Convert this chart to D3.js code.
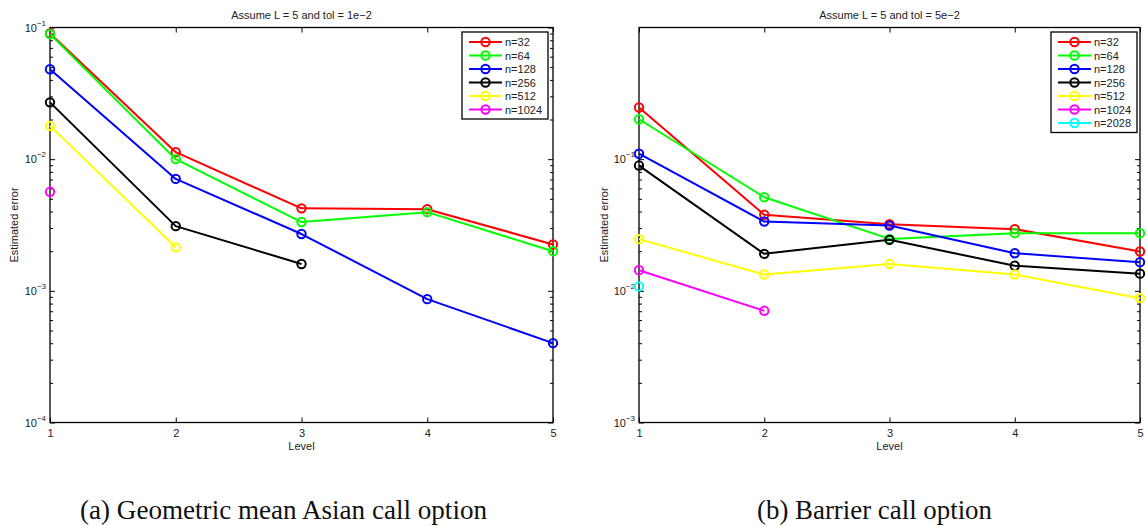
<!DOCTYPE html>
<html><head><meta charset="utf-8">
<script src="https://cdn.jsdelivr.net/npm/d3@7"></script>
<style>
html,body{margin:0;padding:0;background:#fff;}
svg{display:block;}
text{font-family:"Liberation Sans",Arial,Helvetica,sans-serif;fill:#222;}
</style></head>
<body>
<svg id="c" width="1146" height="526"></svg>
<script>
// ---------- data ----------
const levels = [1, 2, 3, 4, 5];
const namesA = ["n=32", "n=64", "n=128", "n=256", "n=512", "n=1024"];
const namesB = ["n=32", "n=64", "n=128", "n=256", "n=512", "n=1024", "n=2028"];
const seriesColors = ["#ff0000", "#00ff00", "#0000ff", "#000000", "#ffff00", "#ff00ff", "#00ffff"];

// (a) Geometric mean Asian call option, tol = 1e-2
const asian_n32   = [0.0900, 0.0113, 0.00423, 0.00417, 0.00225];
const asian_n64   = [0.0890, 0.0100, 0.00333, 0.00396, 0.00200];
const asian_n128  = [0.0482, 0.00708, 0.00270, 0.000865, 0.000401];
const asian_n256  = [0.0270, 0.00310, 0.00160, null, null];
const asian_n512  = [0.0179, 0.00214, null, null, null];
const asian_n1024 = [0.00565, null, null, null, null];

// (b) Barrier call option, tol = 5e-2
const barrier_n32   = [0.247, 0.0378, 0.0321, 0.0294, 0.0199];
const barrier_n64   = [0.201, 0.0514, 0.0248, 0.0274, 0.0274];
const barrier_n128  = [0.110, 0.0336, 0.0313, 0.0193, 0.0165];
const barrier_n256  = [0.0894, 0.0191, 0.0244, 0.0155, 0.0135];
const barrier_n512  = [0.0247, 0.0133, 0.0160, 0.0133, 0.0088];
const barrier_n1024 = [0.01435, 0.00705, null, null, null];
const barrier_n2028 = [0.0108, null, null, null, null];

const titleA = "Assume L = 5 and tol = 1e\u22122";
const titleB = "Assume L = 5 and tol = 5e\u22122";
const captionA = "(a) Geometric mean Asian call option";
const captionB = "(b) Barrier call option";
const xLabel = "Level";
const yLabel = "Estimated error";
const yMajorA = [1e-4, 1e-3, 1e-2, 1e-1];
const yMajorB = [1e-3, 1e-2, 1e-1];

// ---------- drawing ----------
const svg = d3.select("#c");

function panel(opt) {
  const x = d3.scaleLinear().domain([1, 5]).range([opt.x0, opt.x1]);
  const y = d3.scaleLog().domain(opt.ydom).range([opt.yb, opt.yt]);
  const g = svg.append("g");

  // minor ticks
  const minors = [];
  for (let e = Math.log10(opt.minorFrom); e < Math.log10(opt.minorTo) - 1e-9; e++) {
    for (let k = 2; k <= 9; k++) minors.push(k * Math.pow(10, e));
  }
  const tickStyle = s => s.call(a => a.select(".domain").remove())
    .selectAll("line").attr("stroke", "#000").attr("stroke-width", 1);

  g.append("g").attr("transform", `translate(${opt.x0},0)`)
    .call(d3.axisLeft(y).tickValues(minors).tickSize(-3).tickFormat(""))
    .call(tickStyle);
  g.append("g").attr("transform", `translate(${opt.x1},0)`)
    .call(d3.axisRight(y).tickValues(minors).tickSize(-3).tickFormat(""))
    .call(tickStyle);
  g.append("g").attr("transform", `translate(${opt.x1},0)`)
    .call(d3.axisRight(y).tickValues(opt.majors).tickSize(-5).tickFormat(""))
    .call(tickStyle);

  // major y ticks with labels
  const ya = g.append("g").attr("transform", `translate(${opt.x0},0)`)
    .call(d3.axisLeft(y).tickValues(opt.majors).tickSize(-5).tickPadding(4).tickFormat(""));
  ya.call(tickStyle);
  ya.selectAll(".tick text").each(function (d) {
    const t = d3.select(this).attr("font-size", 11).attr("fill", "#222").attr("x", -4).attr("dy", "0.32em")
      .attr("text-anchor", "end").text(null);
    t.append("tspan").text("10");
    t.append("tspan").attr("font-size", 8).attr("dy", "-0.75em").text("\u2212" + Math.round(-Math.log10(d)));
  });

  // x ticks
  const xa = g.append("g").attr("transform", `translate(0,${opt.yb})`)
    .call(d3.axisBottom(x).tickValues(levels).tickSize(-5).tickPadding(7).tickFormat(d3.format("d")));
  xa.call(tickStyle);
  xa.selectAll(".tick text").attr("font-size", 11).attr("fill", "#222").attr("font-family", "Liberation Sans, Arial, sans-serif");
  g.append("g").attr("transform", `translate(0,${opt.yt})`)
    .call(d3.axisTop(x).tickValues(levels).tickSize(-5).tickFormat(""))
    .call(tickStyle);

  // box
  g.append("rect").attr("x", opt.x0).attr("y", opt.yt)
    .attr("width", opt.x1 - opt.x0).attr("height", opt.yb - opt.yt)
    .attr("fill", "none").attr("stroke", "#000").attr("stroke-width", 1.3);

  // series
  const line = d3.line().defined(d => d.v != null).x(d => x(d.l)).y(d => y(d.v));
  opt.series.forEach((s, i) => {
    const pts = levels.map((l, j) => ({ l: l, v: s[j] }));
    g.append("path").datum(pts).attr("d", line).attr("fill", "none")
      .attr("stroke", seriesColors[i]).attr("stroke-width", 2).attr("stroke-linejoin", "round");
    g.selectAll(null).data(pts.filter(d => d.v != null)).enter().append("circle")
      .attr("cx", d => x(d.l)).attr("cy", d => y(d.v)).attr("r", 4.2)
      .attr("fill", "none").attr("stroke", seriesColors[i]).attr("stroke-width", 2);
  });

  // title & labels
  const cx = (opt.x0 + opt.x1) / 2;
  g.append("text").attr("x", cx).attr("y", 19).attr("text-anchor", "middle").attr("font-size", 11).text(opt.title);
  g.append("text").attr("x", cx).attr("y", 450).attr("text-anchor", "middle").attr("font-size", 11).text(xLabel);
  g.append("text").attr("transform", `translate(${opt.ylabX},${(opt.yt + opt.yb) / 2}) rotate(-90)`)
    .attr("text-anchor", "middle").attr("font-size", 11).text(yLabel);

  // legend
  const lx = opt.legX, ly = 32, rowH = 13.5;
  const n = opt.names.length;
  const lg = g.append("g");
  lg.append("rect").attr("x", lx).attr("y", ly).attr("width", opt.legW).attr("height", n * rowH + 6)
    .attr("fill", "#fff").attr("stroke", "#000").attr("stroke-width", 1.3);
  opt.names.forEach((nm, i) => {
    const yy = ly + 10 + i * rowH;
    lg.append("line").attr("x1", lx + 7).attr("x2", lx + 40).attr("y1", yy).attr("y2", yy)
      .attr("stroke", seriesColors[i]).attr("stroke-width", 2);
    lg.append("circle").attr("cx", lx + 23.5).attr("cy", yy).attr("r", 4.2)
      .attr("fill", "none").attr("stroke", seriesColors[i]).attr("stroke-width", 2);
    lg.append("text").attr("x", lx + 43).attr("y", yy + 4).attr("font-size", 11).text(nm);
  });

  // caption
  svg.append("text").attr("x", opt.capX).attr("y", 519)
    .attr("font-size", 27)
    .attr("textLength", opt.capW).attr("lengthAdjust", "spacingAndGlyphs")
    .style("font-family", "'Liberation Serif','Times New Roman',serif").style("fill", "#111")
    .text(opt.caption);
}

panel({
  x0: 50, x1: 553, yt: 27.5, yb: 422.5, ydom: [1e-4, 1e-1], majors: yMajorA,
  minorFrom: 1e-4, minorTo: 1e-1,
  series: [asian_n32, asian_n64, asian_n128, asian_n256, asian_n512, asian_n1024],
  names: namesA, title: titleA, ylabX: 18, legX: 462, legW: 86,
  caption: captionA, capX: 80, capW: 407
});
panel({
  x0: 639, x1: 1140, yt: 27.5, yb: 422.5, ydom: [1e-3, 1], majors: yMajorB,
  minorFrom: 1e-3, minorTo: 1e-1,
  series: [barrier_n32, barrier_n64, barrier_n128, barrier_n256, barrier_n512, barrier_n1024, barrier_n2028],
  names: namesB, title: titleB, ylabX: 608, legX: 1051, legW: 86,
  caption: captionB, capX: 757, capW: 235
});
</script>
</body></html>
